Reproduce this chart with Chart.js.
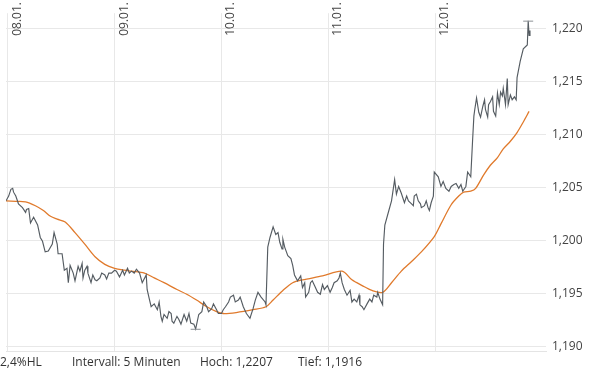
<!DOCTYPE html>
<html>
<head>
<meta charset="utf-8">
<script src="https://cdn.jsdelivr.net/npm/chart.js@4.4.1/dist/chart.umd.min.js"></script>
<style>
  html, body { margin: 0; padding: 0; background: #ffffff; }
  #wrap { position: relative; width: 603px; height: 376px; overflow: hidden; }
  canvas { position: absolute; left: 0; top: 0; }
  .foot { position: absolute; top: 353px; font-family: "Open Sans", sans-serif; font-size: 12px; color: #333; white-space: nowrap; }
</style>
</head>
<body>
<div id="wrap">
  <canvas id="c" width="603" height="376"></canvas>
  <div class="foot" style="left:0px">2,4%HL</div>
  <div class="foot" style="left:72px">Intervall: 5 Minuten</div>
  <div class="foot" style="left:200px">Hoch: 1,2207</div>
  <div class="foot" style="left:298px">Tief: 1,1916</div>
</div>
<script>
// ---- data (time in hours since 08.01. 00:00) ----
const dayLabels = ["08.01.", "09.01.", "10.01.", "11.01.", "12.01."];
const dayTicks = [0, 24, 48, 72, 96];
const yTicks = [1.190, 1.195, 1.200, 1.205, 1.210, 1.215, 1.220];

const priceHours = [
  -0.4,0.2,0.7,1.1,1.3,1.8,2.4,3.3,4.0,4.2,4.7,5.1,5.8,6.7,7.3,7.8,8.4,9.1,10.0,10.4,
  11.1,11.3,12.2,12.7,13.3,13.6,14.0,14.7,15.1,15.8,16.2,16.7,16.9,17.3,17.8,18.0,18.7,19.1,19.6,20.0,
  20.7,21.1,21.8,22.2,22.7,23.3,24.0,24.4,25.1,25.8,26.2,26.9,27.3,27.8,28.4,28.9,29.6,30.2,31.1,31.3,
  31.8,32.2,32.9,33.6,34.0,34.4,34.7,35.1,35.8,36.2,36.7,36.9,37.3,38.0,38.4,38.9,39.6,40.2,40.7,41.1,
  41.8,42.2,42.9,43.6,44.0,44.7,45.1,45.8,46.2,46.9,47.3,48.0,48.4,48.9,49.6,50.0,50.7,51.1,51.8,52.2,
  52.9,53.6,54.4,55.1,55.6,56.2,56.9,57.8,58.0,58.4,58.9,59.6,60.2,60.7,61.1,61.6,61.8,62.2,62.9,63.6,
  64.0,64.4,65.1,65.8,66.2,66.7,66.9,67.6,68.0,68.4,68.9,69.6,70.2,70.7,71.1,71.8,72.4,72.9,73.3,74.0,
  74.4,74.7,75.1,75.6,76.2,76.9,77.3,77.8,78.4,78.9,79.1,79.6,80.0,80.7,81.3,81.8,82.2,82.9,83.1,83.6,
  84.2,84.4,84.7,85.6,86.2,86.9,87.3,87.8,88.4,89.1,89.6,90.0,90.7,91.1,91.3,91.8,92.2,92.7,92.9,93.6,
  94.0,94.4,94.7,95.1,95.6,95.8,96.7,97.3,97.8,98.4,99.1,99.6,100.2,100.7,101.3,101.8,102.2,102.9,103.3,104.0,
  104.4,104.7,104.9,105.3,105.8,106.2,106.7,107.1,107.3,107.8,108.0,108.4,108.9,109.1,109.6,110.0,110.4,110.7,111.1,111.3,
  111.8,112.2,112.4,112.9,113.3,113.8,114.2,114.4,115.1,115.8,116.7,116.9,117.1,117.3
];
const priceValues = [
  1.20373,1.20418,1.20482,1.20491,1.20455,1.20418,1.20345,1.20309,1.20264,1.20291,1.20300,1.20164,1.20218,1.20145,1.20027,1.19991,1.19891,1.19900,1.19964,1.20073,
  1.19964,1.19873,1.19873,1.19718,1.19736,1.19600,1.19764,1.19691,1.19618,1.19755,1.19709,1.19782,1.19645,1.19718,1.19755,1.19691,1.19600,1.19673,1.19627,1.19618,
  1.19645,1.19691,1.19673,1.19636,1.19691,1.19691,1.19718,1.19709,1.19655,1.19718,1.19673,1.19736,1.19691,1.19709,1.19691,1.19727,1.19691,1.19600,1.19673,1.19536,
  1.19445,1.19373,1.19400,1.19345,1.19418,1.19282,1.19236,1.19300,1.19264,1.19327,1.19309,1.19236,1.19218,1.19282,1.19255,1.19209,1.19300,1.19236,1.19309,1.19218,
  1.19209,1.19164,1.19300,1.19327,1.19418,1.19373,1.19327,1.19355,1.19400,1.19345,1.19309,1.19309,1.19345,1.19373,1.19418,1.19464,1.19482,1.19418,1.19436,1.19464,
  1.19373,1.19309,1.19264,1.19355,1.19436,1.19509,1.19464,1.19418,1.19391,1.19936,1.20027,1.20127,1.20055,1.20073,1.19982,1.19918,1.20009,1.19936,1.19855,1.19827,
  1.19764,1.19673,1.19618,1.19664,1.19555,1.19600,1.19464,1.19509,1.19600,1.19618,1.19573,1.19509,1.19491,1.19582,1.19536,1.19573,1.19509,1.19555,1.19600,1.19618,
  1.19645,1.19691,1.19600,1.19536,1.19482,1.19527,1.19418,1.19445,1.19418,1.19482,1.19391,1.19373,1.19345,1.19400,1.19445,1.19418,1.19482,1.19464,1.19509,1.19445,
  1.19391,1.19964,1.20145,1.20282,1.20373,1.20573,1.20436,1.20509,1.20445,1.20355,1.20418,1.20373,1.20345,1.20327,1.20418,1.20436,1.20373,1.20345,1.20309,1.20327,
  1.20373,1.20309,1.20282,1.20355,1.20418,1.20645,1.20600,1.20509,1.20555,1.20491,1.20464,1.20509,1.20527,1.20536,1.20491,1.20527,1.20464,1.20509,1.20645,1.20600,
  1.20936,1.21173,1.21236,1.21345,1.21209,1.21164,1.21264,1.21327,1.21236,1.21164,1.21282,1.21309,1.21355,1.21218,1.21173,1.21391,1.21282,1.21400,1.21364,1.21436,
  1.21282,1.21527,1.21282,1.21373,1.21327,1.21355,1.21327,1.21536,1.21691,1.21809,1.21845,1.22073,1.21936,1.21982
];

const maHours = [-0.4,1.8,4.0,6.2,8.0,9.6,11.1,12.9,15.1,17.3,19.6,21.8,24.0,26.2,27.8,30.7,32.9,35.1,38.0,40.2,42.4,44.7,46.9,48.4,51.3,55.1,58.0,59.6,61.8,64.0,66.2,70.7,75.1,77.3,79.6,81.8,84.2,86.2,88.4,90.7,92.9,95.8,97.3,99.6,101.3,102.4,104.0,105.1,106.9,108.4,110.0,111.3,112.9,114.4,115.8,117.1];
const maValues = [1.20373,1.20368,1.20364,1.20327,1.20282,1.20227,1.20200,1.20173,1.20073,1.19964,1.19845,1.19773,1.19736,1.19718,1.19709,1.19691,1.19645,1.19600,1.19536,1.19491,1.19436,1.19373,1.19327,1.19309,1.19318,1.19345,1.19373,1.19436,1.19527,1.19600,1.19627,1.19664,1.19709,1.19627,1.19573,1.19527,1.19509,1.19600,1.19709,1.19800,1.19891,1.20036,1.20155,1.20336,1.20418,1.20455,1.20464,1.20491,1.20618,1.20709,1.20782,1.20864,1.20936,1.21018,1.21118,1.21218];

const extremeHours = [116.9, 42.2];
const extremeValues = [1.2207, 1.1916];

const xMin = -0.4, xMax = 120.9;
const yMin = 1.18955, yMax = 1.22145;

function pairs(xs, ys) {
  const n = Math.min(xs.length, ys.length);
  const out = [];
  for (let i = 0; i < n; i++) out.push({ x: xs[i], y: ys[i] });
  return out;
}

const dayLabelPlugin = {
  id: 'dayLabels',
  afterDatasetsDraw(chart) {
    const ctx = chart.ctx;
    const xs = chart.scales.x;
    ctx.save();
    ctx.font = '12px "Open Sans", sans-serif';
    ctx.fillStyle = '#444';
    ctx.textAlign = 'right';
    ctx.textBaseline = 'alphabetic';
    dayTicks.forEach((t, i) => {
      const px = xs.getPixelForValue(t);
      ctx.save();
      ctx.translate(px + 13, 2);
      ctx.rotate(-Math.PI / 2);
      ctx.fillText(dayLabels[i], 0, 0);
      ctx.restore();
    });
    ctx.restore();
  }
};

new Chart(document.getElementById('c'), {
  type: 'scatter',
  data: {
    datasets: [
      {
        data: pairs(maHours, maValues),
        showLine: true,
        borderColor: '#e07a2c',
        borderWidth: 1.3,
        pointRadius: 0,
        tension: 0.3,
        order: 2
      },
      {
        data: pairs(priceHours, priceValues),
        showLine: true,
        borderColor: '#555c62',
        borderWidth: 1.15,
        pointRadius: 0,
        tension: 0,
        order: 1
      },
      {
        data: pairs(extremeHours, extremeValues),
        showLine: false,
        pointStyle: 'line',
        pointRadius: 5,
        borderColor: '#8c9196',
        borderWidth: 1,
        order: 0
      }
    ]
  },
  options: {
    responsive: false,
    animation: false,
    devicePixelRatio: 1,
    layout: { padding: { left: 0, top: 0, right: 0, bottom: 25 } },
    plugins: { legend: { display: false }, tooltip: { enabled: false } },
    scales: {
      x: {
        type: 'linear',
        min: xMin,
        max: xMax,
        afterBuildTicks: (s) => { s.ticks = dayTicks.map(v => ({ value: v })); },
        ticks: { display: false },
        grid: { color: '#e8e8e8', drawTicks: false, lineWidth: 1 },
        border: { display: true, color: '#e4e4e4' }
      },
      y: {
        position: 'right',
        min: yMin,
        max: yMax,
        afterBuildTicks: (s) => { s.ticks = yTicks.map(v => ({ value: v })); },
        afterFit: (s) => { s.width = 57; },
        ticks: {
          padding: 6,
          color: '#444',
          font: { family: '"Open Sans", sans-serif', size: 12 },
          callback: (v) => Number(v).toFixed(3).replace('.', ',')
        },
        grid: { color: '#e8e8e8', drawTicks: false, lineWidth: 1 },
        border: { display: false }
      }
    }
  },
  plugins: [dayLabelPlugin]
});
</script>
</body>
</html>
